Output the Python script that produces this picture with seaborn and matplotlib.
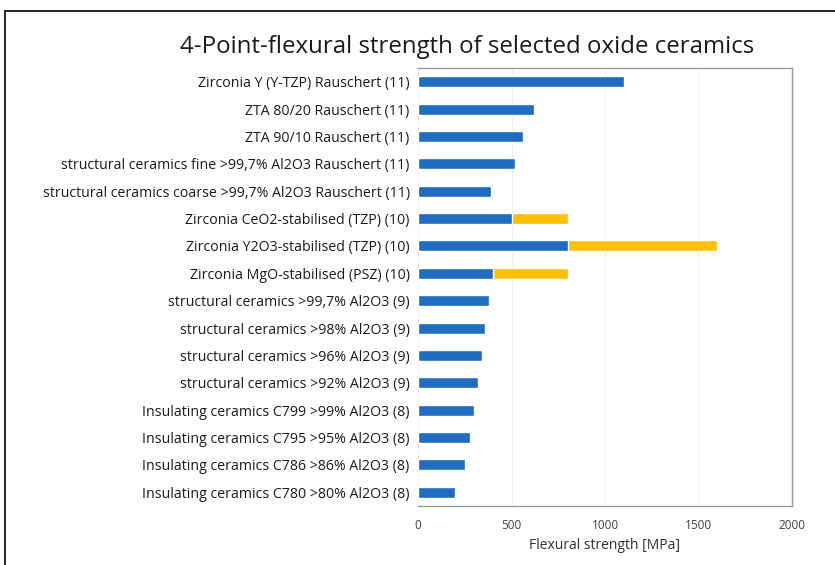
import pandas as pd
import matplotlib.pyplot as plt
import seaborn as sns
from matplotlib.lines import Line2D

# Material names (top to bottom)
materials = [
    "Zirconia Y (Y-TZP) Rauschert (11)",
    "ZTA 80/20 Rauschert (11)",
    "ZTA 90/10 Rauschert (11)",
    "structural ceramics fine >99,7% Al2O3 Rauschert (11)",
    "structural ceramics coarse >99,7% Al2O3 Rauschert (11)",
    "Zirconia CeO2-stabilised (TZP) (10)",
    "Zirconia Y2O3-stabilised (TZP) (10)",
    "Zirconia MgO-stabilised (PSZ) (10)",
    "structural ceramics >99,7% Al2O3 (9)",
    "structural ceramics >98% Al2O3 (9)",
    "structural ceramics >96% Al2O3 (9)",
    "structural ceramics >92% Al2O3 (9)",
    "Insulating ceramics C799 >99% Al2O3 (8)",
    "Insulating ceramics C795 >95% Al2O3 (8)",
    "Insulating ceramics C786 >86% Al2O3 (8)",
    "Insulating ceramics C780 >80% Al2O3 (8)",
]

# lower value (blue) and range up to upper value (orange)
strength_min = [1100, 620, 560, 520, 390, 500, 800, 400, 380, 360, 340, 320, 300, 280, 250, 200]
strength_range = [0, 0, 0, 0, 0, 300, 800, 400, 0, 0, 0, 0, 0, 0, 0, 0]

x_ticks = [0, 500, 1000, 1500, 2000]

df = pd.DataFrame({"material": materials, "min": strength_min, "range": strength_range})
df["max"] = df["min"] + df["range"]

sns.set_style("white")
plt.rcParams['font.family'] = ['Open Sans', 'DejaVu Sans']

fig = plt.figure(figsize=(8.35, 5.65), dpi=100)
ax = fig.add_axes([0.5006, 0.1044, 0.4479, 0.7752])

sns.barplot(data=df, y="material", x="max", color="#FFC000", orient="h",
            width=0.4, saturation=1, ax=ax, zorder=3)
sns.barplot(data=df, y="material", x="min", color="#1F6CC0", orient="h",
            width=0.4, saturation=1, ax=ax, zorder=4)

ax.set_xlim(0, 2000)
ax.set_ylim(15.5, -0.5)
ax.set_xticks(x_ticks)
ax.set_xticklabels([str(t) for t in x_ticks])
ax.tick_params(axis="x", labelsize=8.5, colors="#404040", length=0, pad=9)
ax.tick_params(axis="y", labelsize=10.2, colors="#1a1a1a", length=0, pad=6)
ax.set_ylabel("")
ax.set_xlabel("Flexural strength [MPa]", fontsize=10, color="#303030", labelpad=5)

ax.grid(axis="x", color="#EEEEEE", linewidth=0.8, zorder=0)
for s in ax.spines.values():
    s.set_color("#9A9A9A")
    s.set_linewidth(1.0)
ax.spines["left"].set_visible(False)

fig.text(0.56, 0.917, "4-Point-flexural strength of selected oxide ceramics",
         ha="center", va="center", fontsize=17.3, color="#1a1a1a")

# frame lines of the original figure (top and left only)
fig.add_artist(Line2D([0.006, 1.0], [0.981, 0.981], color="black", linewidth=1.2))
fig.add_artist(Line2D([0.006, 0.006], [0.0, 0.981], color="black", linewidth=1.2))

fig.savefig("out.png", dpi=100)
